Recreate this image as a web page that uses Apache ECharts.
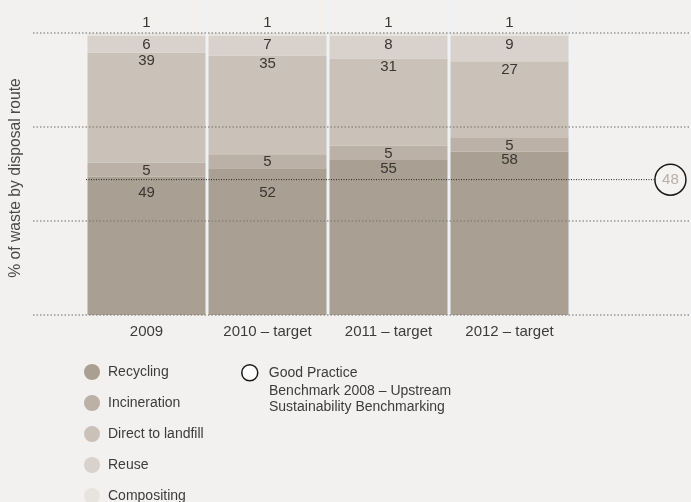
<!DOCTYPE html>
<html>
<head>
<meta charset="utf-8">
<title>Waste by disposal route</title>
<script src="https://cdn.jsdelivr.net/npm/echarts@6/dist/echarts.min.js"></script>
<style>
  html, body { margin: 0; padding: 0; background: #f2f1ef; }
  #chart { width: 691px; height: 502px; }
</style>
</head>
<body>
<div id="chart"></div>
<script>
// Share of waste by disposal route, per year
const categories = ['2009', '2010 – target', '2011 – target', '2012 – target'];
const recycling = [49, 52, 55, 58];
const incineration = [5, 5, 5, 5];
const landfill = [39, 35, 31, 27];
const reuse = [6, 7, 8, 9];
const compositing = [1, 1, 1, 1];

// Good-practice benchmark
const benchmarkValue = 48;
const benchmarkName = 'Good Practice';
const benchmarkNote = ['Benchmark 2008 – Upstream', 'Sustainability Benchmarking'];

const seriesNames = ['Recycling', 'Incineration', 'Direct to landfill', 'Reuse', 'Compositing'];
const seriesColors = ['#aa9f93', '#bbb1a6', '#cac2b9', '#d8d1cc', '#e7e3df'];

const FONT = 'Liberation Sans, Arial, sans-serif';
const TEXT = '#3a3632';
const GRID_TOP = 33, GRID_BOTTOM = 187;

const chart = echarts.init(document.getElementById('chart'));
const plotHeight = chart.getHeight() - GRID_TOP - GRID_BOTTOM;
const pxPerUnit = plotHeight / 100;

// Recycling labels sit just under the benchmark line when the bar top is close to it
function recyclingLabelDistance(v) {
  const gap = v - benchmarkValue;
  return gap < 5 ? gap * pxPerUnit + 5.5 : 1;
}

const axisCats = categories.concat(['']);
const baseLabel = { show: true, fontFamily: FONT, fontSize: 15, color: TEXT };

function barSeries(idx, values, label) {
  return {
    name: seriesNames[idx],
    type: 'bar',
    stack: 'total',
    xAxisIndex: 1,
    yAxisIndex: 1,
    barWidth: 118,
    itemStyle: { color: seriesColors[idx] },
    label: Object.assign({}, baseLabel, label),
    data: values
  };
}

const legendText = { fontFamily: FONT, fontSize: 14, color: '#3c3c3c' };

const option = {
  backgroundColor: '#f2f1ef',
  animation: false,
  textStyle: { fontFamily: FONT },
  grid: [
    { left: 33, right: 0, top: GRID_TOP, bottom: GRID_BOTTOM, outerBoundsMode: 'none' },   // guide lines
    { left: 86, right: 0, top: GRID_TOP, bottom: GRID_BOTTOM, outerBoundsMode: 'none' },   // bars
    { left: 86, right: 0, top: 0, bottom: GRID_BOTTOM, outerBoundsMode: 'none' }           // column separators
  ],
  xAxis: [
    { type: 'value', gridIndex: 0, show: false, min: 0, max: 1 },
    {
      type: 'category', gridIndex: 1, data: axisCats,
      axisLine: { show: false }, axisTick: { show: false },
      axisLabel: { fontFamily: FONT, fontSize: 15, color: '#3c3c3c', margin: 9 },
      splitLine: { show: false }
    },
    { type: 'value', gridIndex: 1, show: false, min: 0.5, max: 5.5 },
    {
      type: 'category', gridIndex: 2, data: axisCats,
      axisLine: { show: false }, axisTick: { show: false }, axisLabel: { show: false },
      splitLine: {
        show: true,
        interval: function (i) { return i >= 1 && i <= 4; },
        lineStyle: { color: '#eef2f4', width: 3 }
      }
    }
  ],
  yAxis: [
    {
      type: 'value', gridIndex: 0, min: 0, max: 3, interval: 1, z: 3,
      name: '% of waste by disposal route',
      nameLocation: 'middle', nameGap: 9, nameRotate: 90,
      nameTextStyle: { fontFamily: FONT, fontSize: 15.7, color: '#4a4a4a', padding: [0, 8, 0, 0] },
      axisLine: { show: false }, axisTick: { show: false }, axisLabel: { show: false },
      splitLine: { show: true, lineStyle: { color: 'rgba(125,120,115,0.75)', width: 1.5, type: [1.5, 2] } }
    },
    { type: 'value', gridIndex: 1, min: 0, max: 100, show: false, splitLine: { show: false } },
    { type: 'value', gridIndex: 2, min: 0, max: 1, show: false, splitLine: { show: false } }
  ],
  legend: [
    {
      data: seriesNames,
      orient: 'vertical', left: 84, top: 364, height: 170, padding: 0,
      icon: 'circle', itemWidth: 16, itemHeight: 16, itemGap: 15,
      textStyle: Object.assign({ padding: [0, 0, 0, 3] }, legendText),
      selectedMode: false
    },
    {
      data: [{ name: benchmarkName, icon: 'circle',
               itemStyle: { color: '#ffffff', borderColor: '#1a1a1a', borderWidth: 1.5 } }],
      orient: 'vertical', left: 241, top: 364, padding: 0,
      itemWidth: 16, itemHeight: 16,
      textStyle: Object.assign({ padding: [0, 0, 0, 6] }, legendText),
      selectedMode: false
    }
  ],
  graphic: [
    {
      type: 'text', left: 269, top: 383,
      style: { text: benchmarkNote.join('\n'), font: '14px ' + FONT, fill: '#3c3c3c', lineHeight: 16 }
    }
  ],
  series: [
    barSeries(0, recycling.map(function (v) {
      return { value: v, label: { distance: recyclingLabelDistance(v) } };
    }), { position: 'insideTop' }),
    barSeries(1, incineration, { position: 'inside', offset: [0, 1] }),
    barSeries(2, landfill, { position: 'insideTop', distance: 1 }),
    barSeries(3, reuse, { position: 'insideTop', distance: 2 }),
    barSeries(4, compositing, { position: 'top', distance: 3 }),
    {
      name: benchmarkName,
      type: 'line',
      xAxisIndex: 2,
      yAxisIndex: 1,
      z: 4,
      lineStyle: { color: '#222222', width: 1, type: [1, 1.5] },
      itemStyle: { color: '#f4f3f1', borderColor: '#1a1a1a', borderWidth: 1.5 },
      data: [
        { value: [0.5, benchmarkValue], symbol: 'none' },
        {
          value: [5.33, benchmarkValue], symbol: 'circle', symbolSize: 31,
          label: {
            show: true, position: 'inside', fontFamily: FONT, fontSize: 15, color: '#b8afa6',
            formatter: function (p) { return String(p.value[1]); }
          }
        }
      ]
    }
  ]
};

chart.setOption(option);
</script>
</body>
</html>
